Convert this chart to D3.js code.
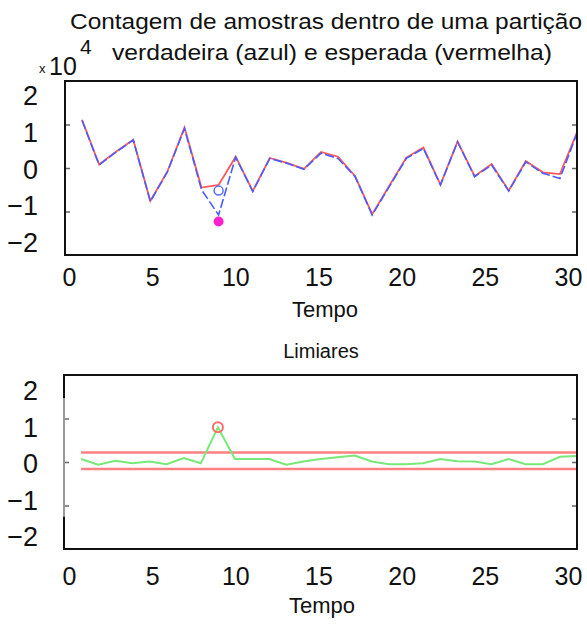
<!DOCTYPE html>
<html>
<head>
<meta charset="utf-8">
<script src="https://cdn.jsdelivr.net/npm/d3@7"></script>
<style>
  html, body { margin: 0; padding: 0; background: #fff; }
  svg { display: block; font-family: "Liberation Sans", Arial, sans-serif; }
</style>
</head>
<body>
<svg id="chart" width="587" height="626"></svg>
<script>
// Time steps
const tempo = [1,2,3,4,5,6,7,8,9,10,11,12,13,14,15,16,17,18,19,20,21,22,23,24,25,26,27,28,29,30];

// Sample counts (x10^4): true partition (blue) and expected partition (red)
const verdadeira = [1.09,0.07,0.37,0.64,-0.77,-0.09,0.91,-0.50,-1.08,0.25,-0.54,0.22,0.11,-0.03,0.34,0.22,-0.20,-1.08,-0.43,0.22,0.45,-0.39,0.60,-0.20,0.07,-0.53,0.14,-0.12,-0.24,0.80];
const esperada   = [1.11,0.08,0.38,0.65,-0.76,-0.08,0.93,-0.45,-0.39,0.26,-0.53,0.23,0.12,-0.02,0.37,0.26,-0.19,-1.06,-0.41,0.24,0.47,-0.38,0.61,-0.19,0.09,-0.52,0.16,-0.10,-0.14,0.82];

// Flagged sample in the upper panel
const anomaliaTempo = [9];
const anomaliaValor = [-1.23];
const marcadorValor = [-0.52];

// Threshold panel: signal and limits
const sinal = [0.07,-0.06,0.03,-0.03,0.01,-0.05,0.09,-0.03,0.80,0.07,0.07,0.07,-0.06,0.01,0.07,0.11,0.15,0.01,-0.05,-0.05,-0.03,0.07,0.02,0.01,-0.05,0.07,-0.05,-0.05,0.12,0.14];
const limiarSuperior = [0.22];
const limiarInferior = [-0.16];

// Axis ticks
const xTicks = [0,5,10,15,20,25,30];
const yTicks = [-2,-1,0,1,2];
const yMinorTicks = [-1,0,1];

const svg = d3.select("#chart");

function panel(cfg) {
  const g = svg.append("g");
  const x = d3.scaleLinear().domain([0, 30]).range([cfg.left, cfg.right]);
  const y = d3.scaleLinear().domain([-2, 2]).range([cfg.bottom, cfg.top]);
  // tick labels sit on their own slightly tighter scales
  const xLab = d3.scaleLinear().domain([0, 30]).range([69, 568]);
  const yLab = d3.scaleLinear().domain([-2, 2]).range(cfg.yLabRange);

  // inner tick marks
  g.append("g").attr("transform", `translate(${cfg.left},0)`)
    .call(d3.axisRight(y).tickValues(yMinorTicks).tickSize(5).tickFormat(""))
    .call(a => a.select(".domain").remove())
    .call(a => a.selectAll("line").attr("stroke", "#666").attr("stroke-width", 1.5));
  g.append("g").attr("transform", `translate(${cfg.right},0)`)
    .call(d3.axisLeft(y).tickValues(yMinorTicks).tickSize(5).tickFormat(""))
    .call(a => a.select(".domain").remove())
    .call(a => a.selectAll("line").attr("stroke", "#666").attr("stroke-width", 1.5));

  // y tick labels
  g.append("g").attr("transform", "translate(38,0)")
    .call(d3.axisLeft(yLab).tickValues(yTicks).tickSize(0).tickPadding(0).tickFormat(d3.format("d")))
    .call(a => a.select(".domain").remove())
    .call(a => a.selectAll("text")
      .attr("font-size", 27).attr("fill", "#111")
      .attr("font-family", "Liberation Sans, Arial, sans-serif")
      .attr("dy", null).attr("y", 9.5).attr("x", 0).attr("text-anchor", "end"));

  // x tick labels
  g.append("g").attr("transform", `translate(0,${cfg.xLabBase})`)
    .call(d3.axisBottom(xLab).tickValues(xTicks).tickSize(0).tickPadding(0).tickFormat(d3.format("d")))
    .call(a => a.select(".domain").remove())
    .call(a => a.selectAll("text")
      .attr("font-size", 25).attr("fill", "#111")
      .attr("font-family", "Liberation Sans, Arial, sans-serif")
      .attr("dy", null).attr("y", 0));

  g.append("text").attr("x", cfg.xTitleX).attr("y", cfg.xTitleY)
    .attr("text-anchor", "middle").attr("font-size", 22).attr("fill", "#111")
    .text("Tempo");

  return { g, x, y };
}

// ---------- upper panel ----------
const painelSup = panel({ left: 65, right: 577, top: 81, bottom: 255,
  yLabRange: [242, 95], xLabBase: 286, xTitleX: 325, xTitleY: 317 });

const plotSup = painelSup.g.append("g");
const linhaSup = d3.line().x((d, i) => painelSup.x(tempo[i])).y(d => painelSup.y(d));
plotSup.append("path").datum(esperada).attr("d", linhaSup)
  .attr("fill", "none").attr("stroke", "#ff5a5a").attr("stroke-width", 1.8);
plotSup.append("path").datum(verdadeira).attr("d", linhaSup)
  .attr("fill", "none").attr("stroke", "#4a5cff").attr("stroke-width", 1.6)
  .attr("stroke-dasharray", "9,3");
plotSup.selectAll("circle.marca").data(anomaliaTempo).enter().append("circle")
  .attr("class", "marca")
  .attr("cx", d => painelSup.x(d)).attr("cy", (d, i) => painelSup.y(marcadorValor[i])).attr("r", 4.5)
  .attr("fill", "none").attr("stroke", "#5a6cff").attr("stroke-width", 1.5);
plotSup.selectAll("circle.anomalia").data(anomaliaTempo).enter().append("circle")
  .attr("class", "anomalia")
  .attr("cx", d => painelSup.x(d)).attr("cy", (d, i) => painelSup.y(anomaliaValor[i])).attr("r", 5)
  .attr("fill", "#ff22cc");

painelSup.g.append("rect").attr("x", 65).attr("y", 81).attr("width", 512).attr("height", 174)
  .attr("fill", "none").attr("stroke", "#111").attr("stroke-width", 2);

// title and exponent
const titulo = svg.append("g").attr("fill", "#111");
titulo.append("text").attr("x", 70).attr("y", 29).attr("font-size", 22)
  .attr("textLength", 512).attr("lengthAdjust", "spacingAndGlyphs")
  .text("Contagem de amostras dentro de uma partição");
titulo.append("text").attr("x", 112).attr("y", 60).attr("font-size", 22)
  .attr("textLength", 440).attr("lengthAdjust", "spacingAndGlyphs")
  .text("verdadeira (azul) e esperada (vermelha)");
const expo = svg.append("text").attr("fill", "#111");
expo.append("tspan").attr("x", 39).attr("y", 73).attr("font-size", 13).text("x");
expo.append("tspan").attr("x", 49).attr("y", 75).attr("font-size", 25).text("10");
expo.append("tspan").attr("x", 80).attr("y", 54).attr("font-size", 21).text("4");

// ---------- lower panel ----------
const painelInf = panel({ left: 64, right: 577, top: 375, bottom: 549,
  yLabRange: [536, 390], xLabBase: 585, xTitleX: 322, xTitleY: 613 });

svg.append("text").attr("x", 321).attr("y", 358).attr("text-anchor", "middle")
  .attr("font-size", 20).attr("fill", "#111").text("Limiares");

const plotInf = painelInf.g.append("g");
[limiarSuperior, limiarInferior].forEach(lim => {
  plotInf.append("line")
    .attr("x1", painelInf.x(tempo[0])).attr("x2", painelInf.x(tempo[tempo.length - 1]))
    .attr("y1", painelInf.y(lim[0])).attr("y2", painelInf.y(lim[0]))
    .attr("stroke", "#ff8080").attr("stroke-width", 2.5);
});
const linhaInf = d3.line().x((d, i) => painelInf.x(tempo[i])).y(d => painelInf.y(d));
plotInf.append("path").datum(sinal).attr("d", linhaInf)
  .attr("fill", "none").attr("stroke", "#78e878").attr("stroke-width", 2);
plotInf.selectAll("circle.pico").data(anomaliaTempo).enter().append("circle")
  .attr("class", "pico")
  .attr("cx", d => painelInf.x(d)).attr("cy", d => painelInf.y(sinal[tempo.indexOf(d)])).attr("r", 5)
  .attr("fill", "none").attr("stroke", "#ff6a6a").attr("stroke-width", 2);

painelInf.g.append("rect").attr("x", 64).attr("y", 375).attr("width", 513).attr("height", 174)
  .attr("fill", "none").attr("stroke", "#111").attr("stroke-width", 2);
// the middle stretch of the lower panel's left edge is drawn lighter
painelInf.g.append("line")
  .attr("x1", 64).attr("x2", 64)
  .attr("y1", painelInf.y(1.47)).attr("y2", painelInf.y(-1.26))
  .attr("stroke", "#9a9a9a").attr("stroke-width", 2);
</script>
</body>
</html>
